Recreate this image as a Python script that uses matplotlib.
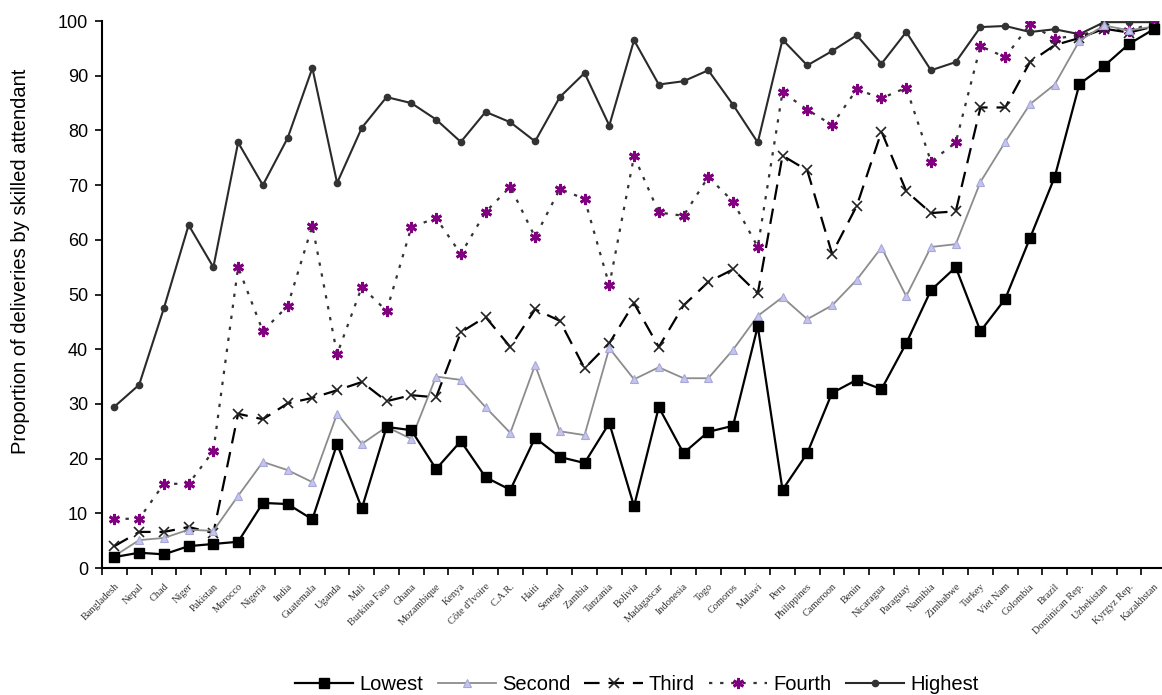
import matplotlib
matplotlib.use("Agg")
import matplotlib.pyplot as plt
import numpy as np

countries = ["Bangladesh", "Nepal", "Chad", "Niger", "Pakistan", "Morocco", "Nigeria", "India",
             "Guatemala", "Uganda", "Mali", "Burkina Faso", "Ghana", "Mozambique", "Kenya",
             "Côte d'Ivoire", "C.A.R.", "Haiti", "Senegal", "Zambia", "Tanzania", "Bolivia",
             "Madagascar", "Indonesia", "Togo", "Comoros", "Malawi", "Peru", "Philippines",
             "Cameroon", "Benin", "Nicaragua", "Paraguay", "Namibia", "Zimbabwe", "Turkey",
             "Viet Nam", "Colombia", "Brazil", "Dominican Rep.", "Uzbekistan", "Kyrgyz Rep.",
             "Kazakhstan"]

lowest = [2, 2.8, 2.5, 4, 4.4, 4.8, 11.9, 11.7, 8.9, 22.7, 10.9, 25.8, 25.2, 18.1, 23.2,
          16.6, 14.3, 23.8, 20.3, 19.2, 26.5, 11.3, 29.4, 21, 24.9, 26, 44.2, 14.3, 21,
          32, 34.4, 32.7, 41.1, 50.8, 55, 43.3, 49.2, 60.3, 71.5, 88.5, 91.8, 95.8, 98.5]
second = [2.2, 5.1, 5.5, 7, 6.8, 13.2, 19.4, 17.9, 15.7, 28.2, 22.7, 25.8, 23.6, 35, 34.4,
          29.4, 24.7, 37.1, 25, 24.3, 40.2, 34.5, 36.7, 34.7, 34.7, 39.9, 46.1, 49.5, 45.5,
          48, 52.7, 58.6, 49.7, 58.7, 59.2, 70.6, 77.9, 84.8, 88.4, 96.4, 99.2, 98.3, 99]
third = [4, 6.6, 6.6, 7.5, 6.4, 28.2, 27.2, 30.1, 31.1, 32.5, 34, 30.5, 31.6, 31.2, 43.1,
         45.9, 40.4, 47.3, 45.2, 36.5, 41.1, 48.4, 40.4, 48, 52.3, 54.6, 50.2, 75.4, 72.7,
         57.5, 66.2, 79.8, 68.9, 64.9, 65.2, 84.2, 84.2, 92.5, 95.6, 96.9, 98.6, 97.9, 99]
fourth = [9, 9, 15.4, 15.4, 21.4, 55, 43.3, 47.9, 62.6, 39.1, 51.4, 47, 62.3, 64, 57.4,
          65.1, 69.7, 60.5, 69.3, 67.5, 51.7, 75.3, 65, 64.4, 71.5, 67, 58.7, 87, 83.8,
          81, 87.5, 85.9, 87.8, 74.3, 77.8, 95.4, 93.4, 99.4, 96.8, 97.4, 98.6, 98.1, 99.8]
highest = [29.5, 33.5, 47.5, 62.7, 55, 77.8, 70, 78.6, 91.4, 70.4, 80.5, 86.1, 85, 82, 77.9,
           83.4, 81.5, 78, 86.1, 90.5, 80.9, 96.5, 88.4, 89, 91, 84.7, 77.8, 96.6, 91.9,
           94.5, 97.4, 92.2, 98, 91, 92.5, 98.9, 99.1, 98, 98.5, 97.6, 99.8, 99.8, 99.8]

plt.rcParams['font.family'] = ['Liberation Sans', 'DejaVu Sans']

fig = plt.figure(figsize=(11.62, 6.95), dpi=100)
ax = fig.add_axes([0.0878, 0.1827, 0.9157, 0.787])
x = np.arange(len(countries))

ax.plot(x, lowest, color='black', lw=1.6, marker='s', ms=7.5, mfc='black', mec='black',
        label='Lowest', zorder=5)
ax.plot(x, second, color='#8c8c8c', lw=1.3, marker='^', ms=5.5, mfc='#c4c4ee', mec='#a8a8d8',
        mew=0.8, label='Second', zorder=4)
ax.plot(x, third, color='black', lw=1.6, ls=(0, (7, 4)), marker='x', ms=7, mec='#222222',
        mew=1.2, label='Third', zorder=3)
ax.plot(x, fourth, color='#333333', lw=1.6, ls=(0, (1.5, 3.5)), marker=(6, 2, 0), ms=8,
        mec='#800080', mfc='#800080', mew=2.0, label='Fourth', zorder=2)
ax.plot(x, highest, color='#2a2a2a', lw=1.5, marker='o', ms=4.5, mfc='#333333', mec='#333333',
        label='Highest', zorder=1)

ax.set_xlim(-0.5, len(countries) - 0.5)
ax.set_ylim(0, 100)
ax.set_yticks(np.arange(0, 101, 10))
ax.tick_params(axis='y', labelsize=13, length=5, width=1.2, direction='out', pad=5)
ax.set_xticks(x)
ax.set_xticklabels(countries, rotation=45, ha='right', rotation_mode='anchor',
                   fontsize=7.5, family=['Liberation Serif', 'DejaVu Serif'], color='#333333')
ax.tick_params(axis='x', which='major', length=0, pad=10)
ax.set_xticks(np.arange(-0.5, len(countries), 1), minor=True)
ax.tick_params(axis='x', which='minor', length=5, width=1.2, direction='out')
for s in ['top', 'right']:
    ax.spines[s].set_visible(False)
for s in ['left', 'bottom']:
    ax.spines[s].set_linewidth(1.5)
ax.set_ylabel('Proportion of deliveries by skilled attendant', fontsize=14.5)
ax.yaxis.set_label_coords(-0.068, 0.56)

fig.legend(loc='lower center', bbox_to_anchor=(0.548, -0.024), ncol=5, frameon=False,
           fontsize=14.5, handlelength=2.9, handletextpad=0.3, columnspacing=0.7)

fig.savefig('out.png', dpi=100)
